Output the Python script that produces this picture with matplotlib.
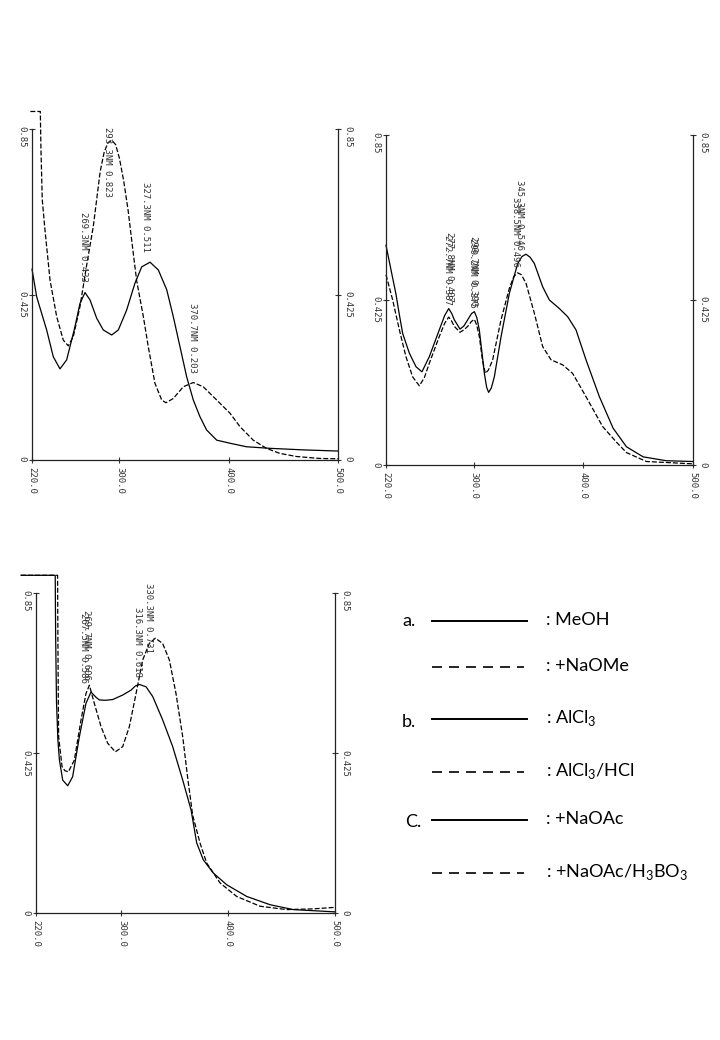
import matplotlib.pyplot as plt

plt.rcParams['mathtext.fontset'] = 'custom'
plt.rcParams['mathtext.rm'] = 'Lato'

## panel a: MeOH (solid) and +NaOMe (dashed)
a_meoh_wl = [220, 224.3, 229, 233.4, 239.5, 245.6, 251.7, 259.3, 263.9, 268.5, 273.1, 279.2, 285.2,
             292.9, 299, 306.6, 314.2, 320.4, 328, 335.6, 343.3, 349.3, 355.4, 361.5, 367.6, 373.7,
             379.8, 389, 401.2, 416.3, 437.6, 468, 500]
a_meoh_abs = [0.49, 0.419, 0.375, 0.334, 0.265, 0.234, 0.257, 0.342, 0.402, 0.43, 0.411, 0.364, 0.334,
              0.321, 0.334, 0.385, 0.454, 0.496, 0.508, 0.488, 0.437, 0.368, 0.291, 0.214, 0.154, 0.111,
              0.077, 0.051, 0.043, 0.034, 0.030, 0.026, 0.023]
a_naome_wl = [218.5, 227.6, 228.2, 229.4, 231.9, 236.5, 242.6, 248.6, 253.2, 257.8, 263.9, 270, 276.1,
              282.4, 286, 289.5, 293, 296.5, 300, 304, 308, 312.7, 315.8, 321.9, 326.4, 332.5, 338.7,
              342.6, 349.3, 358.4, 367.6, 376.7, 389, 401.2, 410.2, 422.4, 434.5, 446.7, 461.9, 483.2,
              500]
a_naome_abs = [0.895, 0.895, 0.797, 0.668, 0.59, 0.462, 0.368, 0.308, 0.293, 0.317, 0.394, 0.5, 0.6,
               0.741, 0.79, 0.815, 0.821, 0.81, 0.775, 0.715, 0.64, 0.53, 0.46, 0.368, 0.291, 0.197,
               0.154, 0.147, 0.158, 0.188, 0.199, 0.188, 0.154, 0.12, 0.086, 0.051, 0.030, 0.017, 0.009,
               0.004, 0.003]

## panel b: AlCl3 (solid) and AlCl3/HCl (dashed)
b_alcl3_wl = [220, 224.6, 229.1, 232, 235.2, 241.3, 247.4, 252.8, 259.5, 268.6, 273.5, 277.2, 280,
              282.3, 287.5, 291, 294.5, 298, 300.6, 302.8, 305.1, 307.5, 309.7, 311.8, 313.6, 316,
              318.8, 324.9, 332.5, 340.1, 344, 347.7, 351.5, 355.3, 362.9, 369, 378.1, 385.7, 393.3,
              402.4, 414.6, 427.1, 439.3, 454.5, 475.7, 500]
b_alcl3_abs = [0.566, 0.502, 0.44, 0.39, 0.339, 0.288, 0.253, 0.24, 0.279, 0.348, 0.385, 0.403, 0.39,
               0.374, 0.35, 0.358, 0.374, 0.39, 0.395, 0.38, 0.348, 0.29, 0.236, 0.2, 0.187, 0.198,
               0.227, 0.33, 0.442, 0.519, 0.537, 0.543, 0.535, 0.519, 0.459, 0.425, 0.403, 0.382, 0.348,
               0.271, 0.176, 0.095, 0.047, 0.021, 0.011, 0.009]
b_hcl_wl = [220, 226.1, 232.2, 238.2, 244.3, 250.4, 255, 259.5, 268.6, 273.5, 277.2, 280, 282.3, 287.5,
            291, 294.5, 298, 300.6, 302.8, 305.1, 308, 310.6, 313.5, 317.3, 324.9, 332.5, 336.5, 340.1,
            343.5, 347.7, 355.3, 362.9, 370.5, 381.1, 390.2, 402.4, 417.6, 429.8, 439.3, 457.5, 500]
b_hcl_abs = [0.49, 0.425, 0.348, 0.279, 0.227, 0.204, 0.225, 0.262, 0.331, 0.365, 0.381, 0.37, 0.357,
             0.342, 0.348, 0.357, 0.37, 0.375, 0.36, 0.331, 0.27, 0.236, 0.245, 0.271, 0.374, 0.455,
             0.485, 0.495, 0.49, 0.468, 0.391, 0.305, 0.271, 0.258, 0.236, 0.176, 0.099, 0.06, 0.032,
             0.009, 0.003]

## panel c: +NaOAc (solid) and +NaOAc/H3BO3 (dashed)
c_naoac_wl = [206, 238, 238.4, 239.2, 240.5, 241.9, 245, 249.7, 254.3, 260.6, 266.8, 271.5, 276.2,
              279.3, 285, 291.8, 301.2, 309, 313, 316.8, 323, 329.3, 338.6, 348, 357.4, 365.2, 370.5,
              376.7, 386.1, 398.6, 417.3, 439.2, 461, 500]
c_naoac_abs = [0.897, 0.897, 0.733, 0.56, 0.46, 0.407, 0.353, 0.338, 0.362, 0.468, 0.557, 0.587, 0.573,
               0.566, 0.565, 0.567, 0.579, 0.592, 0.603, 0.607, 0.601, 0.575, 0.513, 0.442, 0.353, 0.274,
               0.186, 0.141, 0.106, 0.075, 0.044, 0.022, 0.009, 0.003]
c_boric_wl = [206, 240.2, 240.5, 240.9, 241.2, 244.4, 247, 250.3, 255.9, 262.1, 266.8, 270, 274.6,
              280.9, 287.1, 294.3, 301.2, 307.4, 313.7, 319.9, 326.1, 331.8, 338.6, 344.9, 351.1, 357.4,
              362, 366.7, 373.6, 379.8, 392.3, 407.9, 429.8, 454.8, 479.7, 500]
c_boric_abs = [0.897, 0.897, 0.733, 0.557, 0.468, 0.389, 0.378, 0.375, 0.406, 0.512, 0.583, 0.605, 0.557,
               0.495, 0.451, 0.428, 0.442, 0.495, 0.583, 0.672, 0.716, 0.73, 0.716, 0.672, 0.583, 0.468,
               0.36, 0.26, 0.186, 0.133, 0.08, 0.044, 0.018, 0.009, 0.011, 0.015]

wl_ticks = [220, 300, 400, 500]
wl_ticklabels = ['220.0', '300.0', '400.0', '500.0']
abs_ticks = [0, 0.425, 0.85]
abs_ticklabels = ['0', '0.425', '0.85']

a_peaks = ['269.3NM 0.433', '293.3NM 0.823', '327.3NM 0.511', '370.7NM 0.203']
b_peaks = ['272.7NM 0.387', '277.8NM 0.407', '299.2NM 0.375', '299.7NM 0.390',
           '345.3NM 0.546', '338.5NM 0.496']
c_peaks = ['267.5NM 0.586', '269.7NM 0.606', '316.3NM 0.618', '330.3NM 0.731']

legend_tags = ['a.', '', 'b.', '', 'C.', '']
legend_names = [': MeOH', ': +NaOMe', ': AlCl$_3$', ': AlCl$_3$/HCl', ': +NaOAc',
                ': +NaOAc/H$_3$BO$_3$']
legend_solid = [True, False, True, False, True, False]

## layout (pixels / fractions)
a_peak_pos = [(266.7, 0.457), (289.5, 0.675), (323.4, 0.534), (367.3, 0.223)]
b_peak_pos = [(276.0, 0.412), (277.8, 0.420), (298.6, 0.404), (299.6, 0.410),
              (342.2, 0.554), (337.7, 0.510)]
c_peak_pos = [(264.5, 0.612), (267.5, 0.620), (314.6, 0.627), (324.9, 0.690)]

fig = plt.figure(figsize=(7.2, 10.4), dpi=100)
W, H = 720, 1040


def px_rect(x0, y_top, x1, y_bot):
    return [x0 / W, 1 - y_bot / H, (x1 - x0) / W, (y_bot - y_top) / H]


def spectrum_panel(rect, solid_wl, solid_abs, dash_wl, dash_abs, peaks, peak_pos):
    ax = fig.add_axes(rect)
    ax.plot(solid_wl, solid_abs, c='k', lw=0.9, clip_on=False)
    ax.plot(dash_wl, dash_abs, c='k', lw=0.9, ls=(0, (4, 1.6)), clip_on=False)
    ax.set_xlim(220, 500)
    ax.set_ylim(0, 0.85)
    ax.spines['top'].set_visible(False)
    for s in ['left', 'right', 'bottom']:
        ax.spines[s].set_linewidth(0.9)
        ax.spines[s].set_color('#222222')
    ax.set_xticks(wl_ticks)
    ax.set_xticklabels(wl_ticklabels)
    ax.set_yticks(abs_ticks)
    ax.set_yticklabels(abs_ticklabels)
    ax.tick_params(axis='both', direction='inout', length=4, width=0.8, colors='#333333',
                   labelsize=6.5)
    ax.tick_params(axis='y', right=True, labelright=True, labelrotation=-90, pad=2)
    ax.tick_params(axis='x', labelrotation=-90, pad=3)
    for lab in ax.get_xticklabels() + ax.get_yticklabels():
        lab.set_family('DejaVu Sans Mono')
    for txt, (x, y) in zip(peaks, peak_pos):
        ax.text(x, y, txt, rotation=-90, ha='center', va='bottom', fontsize=6.5,
                family='DejaVu Sans Mono', color='#333333')
    return ax


spectrum_panel(px_rect(32, 129, 338, 460), a_meoh_wl, a_meoh_abs, a_naome_wl, a_naome_abs,
               a_peaks, a_peak_pos)
spectrum_panel(px_rect(386, 135, 693, 465), b_alcl3_wl, b_alcl3_abs, b_hcl_wl, b_hcl_abs,
               b_peaks, b_peak_pos)
spectrum_panel(px_rect(36, 593, 335, 913), c_naoac_wl, c_naoac_abs, c_boric_wl, c_boric_abs,
               c_peaks, c_peak_pos)

## legend drawn on an overlay in pixel coordinates
lg = fig.add_axes([0, 0, 1, 1])
lg.set_xlim(0, W)
lg.set_ylim(H, 0)
lg.axis('off')
row_y = [621, 667, 719, 772, 820, 873]
tag_dy = {'a.': 0, 'b.': 3, 'C.': 2}
for i, (tag, name, solid) in enumerate(zip(legend_tags, legend_names, legend_solid)):
    y = row_y[i]
    if solid:
        lg.plot([432, 527], [y, y], c='k', lw=1.4)
    else:
        lg.plot([432, 524], [y, y], c='k', lw=1.2, ls=(0, (6.0, 4.2)))
    if tag:
        lg.text(402 if tag != 'C.' else 405, y + tag_dy[tag], tag, fontsize=13,
                family='Lato', va='center', ha='left')
    lg.text(546, y - 1, name, fontsize=13, family='Lato', va='center', ha='left')

fig.savefig('out.png', dpi=100)
